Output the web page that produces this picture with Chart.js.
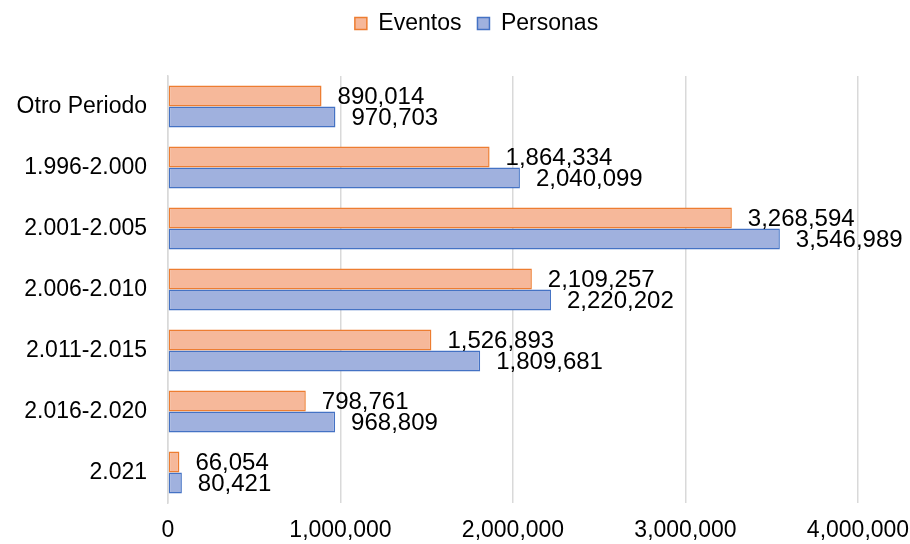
<!DOCTYPE html>
<html>
<head>
<meta charset="utf-8">
<script src="https://cdn.jsdelivr.net/npm/chart.js@4/dist/chart.umd.min.js"></script>
<style>
  html, body { margin: 0; padding: 0; background: #fff; }
  #wrap { width: 910px; height: 544px; }
</style>
</head>
<body>
<div id="wrap"><canvas id="chart" width="910" height="544"></canvas></div>
<script>
// data
var periodos = ['Otro Periodo', '1.996-2.000', '2.001-2.005', '2.006-2.010', '2.011-2.015', '2.016-2.020', '2.021'];
var eventos = [890014, 1864334, 3268594, 2109257, 1526893, 798761, 66054];
var personas = [970703, 2040099, 3546989, 2220202, 1809681, 968809, 80421];
var xTicks = [0, 1000000, 2000000, 3000000, 4000000];

var fmt = function (v) { return Number(v).toLocaleString('en-US'); };

Chart.defaults.font.family = '"Liberation Sans", Arial, sans-serif';
Chart.defaults.font.size = 23;
Chart.defaults.color = '#000';

// value labels just past the end of every bar
var barLabels = {
    id: 'barLabels',
    afterDatasetsDraw: function (chart) {
        var ctx = chart.ctx;
        ctx.save();
        ctx.font = '24px "Liberation Sans", Arial, sans-serif';
        ctx.fillStyle = '#000';
        ctx.textAlign = 'left';
        ctx.textBaseline = 'middle';
        chart.data.datasets.forEach(function (ds, i) {
            chart.getDatasetMeta(i).data.forEach(function (bar, j) {
                ctx.fillText(fmt(ds.data[j]), bar.x + 16, bar.y + 1);
            });
        });
        ctx.restore();
    }
};

// legend sits a bit right of centre and close to the top edge
var legendShift = {
    id: 'legendShift',
    afterLayout: function (chart) {
        chart.legend.left = 43;
        chart.legend.top = -4;
    }
};

new Chart(document.getElementById('chart').getContext('2d'), {
    type: 'bar',
    data: {
        labels: periodos,
        datasets: [{
            label: 'Eventos',
            data: eventos,
            backgroundColor: 'rgb(246,184,154)',
            borderColor: '#ed7d31',
            borderWidth: 1.5,
            borderSkipped: false
        }, {
            label: 'Personas',
            data: personas,
            backgroundColor: 'rgb(160,177,222)',
            borderColor: '#4472c4',
            borderWidth: 1.5,
            borderSkipped: false
        }]
    },
    options: {
        indexAxis: 'y',
        responsive: false,
        animation: false,
        layout: { padding: 0 },
        datasets: { bar: { categoryPercentage: 0.69, barPercentage: 1 } },
        plugins: {
            legend: {
                position: 'top',
                labels: { boxWidth: 12, boxHeight: 12, padding: 16, color: '#000' }
            },
            tooltip: { enabled: false }
        },
        scales: {
            x: {
                min: 0,
                max: 4000000,
                afterBuildTicks: function (s) { s.ticks = xTicks.map(function (v) { return { value: v }; }); },
                afterFit: function (s) { s.height = 41; s.paddingRight = 52; },
                grid: { color: '#d9d9d9', lineWidth: 1.5, drawTicks: false },
                border: { display: false },
                ticks: { padding: 14, callback: function (v) { return fmt(v); } }
            },
            y: {
                afterFit: function (s) { s.width = 168; },
                grid: { display: false, drawTicks: false },
                border: { color: '#d9d9d9', width: 1.5 },
                ticks: { padding: 21 }
            },
            gap: {
                type: 'linear',
                position: 'top',
                afterFit: function (s) { s.height = 27; },
                grid: { display: false, drawTicks: false },
                border: { display: false },
                ticks: { display: false }
            }
        }
    },
    plugins: [barLabels, legendShift]
});
</script>
</body>
</html>
